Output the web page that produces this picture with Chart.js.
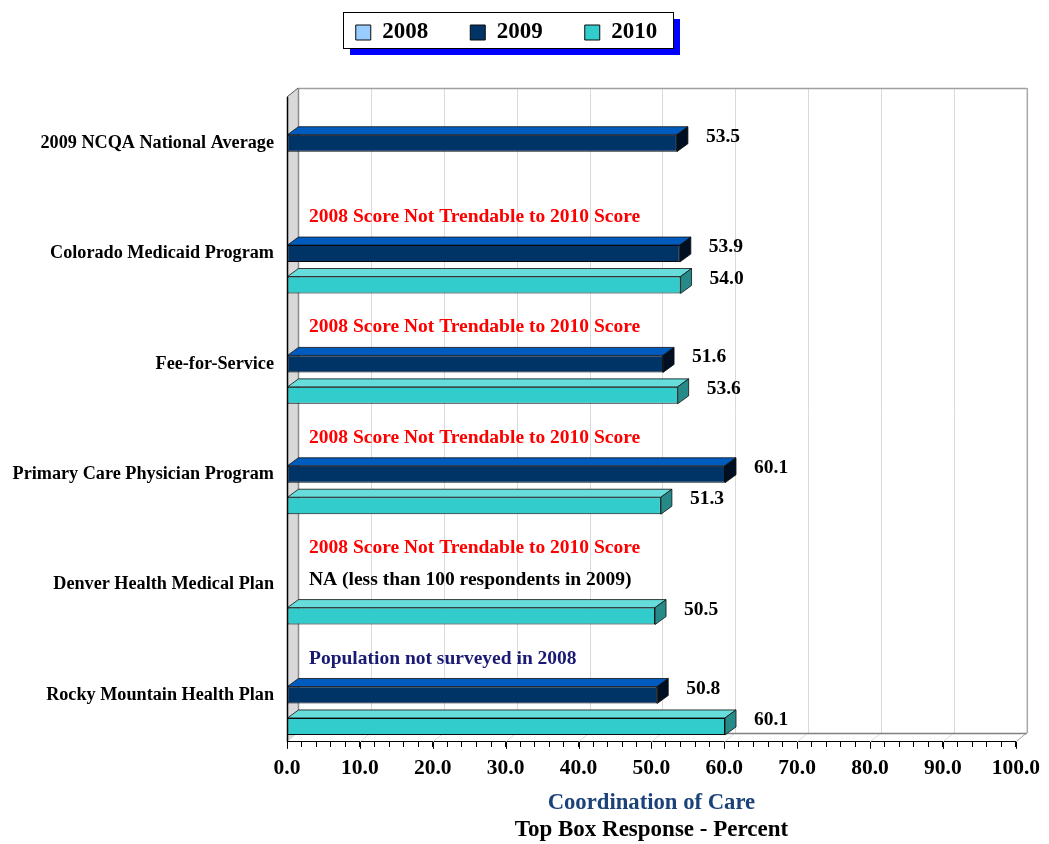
<!DOCTYPE html>
<html>
<head>
<meta charset="utf-8">
<script src="https://cdn.jsdelivr.net/npm/chart.js@4.4.1/dist/chart.umd.min.js"></script>
<style>
html,body{margin:0;padding:0;background:#ffffff;}
canvas{display:block;}
</style>
</head>
<body>
<canvas id="c" width="1049" height="844"></canvas>
<script>
// ---------------- data ----------------
const categories = [
  '2009 NCQA National Average',
  'Colorado Medicaid Program',
  'Fee-for-Service',
  'Primary Care Physician Program',
  'Denver Health Medical Plan',
  'Rocky Mountain Health Plan'
];
const seriesNames = ['2008', '2009', '2010'];
const values2008 = [null, null, null, null, null, null];
const values2009 = [53.5, 53.9, 51.6, 60.1, null, 50.8];
const values2010 = [null, 54.0, 53.6, 51.3, 50.5, 60.1];
const notes2008 = [
  null,
  '2008 Score Not Trendable to 2010 Score',
  '2008 Score Not Trendable to 2010 Score',
  '2008 Score Not Trendable to 2010 Score',
  '2008 Score Not Trendable to 2010 Score',
  'Population not surveyed in 2008'
];
const notes2009 = [null, null, null, null, 'NA (less than 100 respondents in 2009)', null];
const xTickLabels = ['0.0', '10.0', '20.0', '30.0', '40.0', '50.0', '60.0', '70.0', '80.0', '90.0', '100.0'];
const axisTitle = 'Coordination of Care';
const axisSubtitle = 'Top Box Response - Percent';

// ---------------- styles ----------------
const FONT = '"Liberation Serif", "Times New Roman", serif';
const frontColors = ['#99CCFF', '#003366', '#33CCCC'];
const topColors = ['#C2E0FF', '#005BBF', '#66DDDA'];
const sideColors = ['#6A9ACC', '#000F22', '#268A88'];
const note2008Colors = [null, '#FF0000', '#FF0000', '#FF0000', '#FF0000', '#1A1A75'];
const note2009Color = '#000000';
const WALL_DX = 11, WALL_DY = 9;
const BAR_DX = 11, BAR_DY = 8;
const AXIS_AT = 5.425;          // category-axis position of the front floor edge
const LEGEND_H = 109;

function poly(ctx, pts, fill, stroke, lw) {
  ctx.beginPath();
  ctx.moveTo(pts[0][0], pts[0][1]);
  for (let i = 1; i < pts.length; i++) ctx.lineTo(pts[i][0], pts[i][1]);
  ctx.closePath();
  if (fill) { ctx.fillStyle = fill; ctx.fill(); }
  if (stroke) { ctx.strokeStyle = stroke; ctx.lineWidth = lw || 1; ctx.stroke(); }
}
function line(ctx, x1, y1, x2, y2, color, lw) {
  ctx.beginPath();
  ctx.moveTo(x1, y1); ctx.lineTo(x2, y2);
  ctx.strokeStyle = color; ctx.lineWidth = lw || 1; ctx.stroke();
}

const threeD = {
  id: 'threeD',
  afterInit(chart) {
    const lg = chart.legend;
    if (lg) {
      const f = lg.fit;
      lg.fit = function () { f.call(this); this.height = LEGEND_H; };
    }
  },
  beforeDraw(chart) {
    const ctx = chart.ctx;
    const lg = chart.legend;
    if (!lg || !lg.legendHitBoxes || !lg.legendHitBoxes.length) return;
    const hb = lg.legendHitBoxes;
    const last = hb[hb.length - 1];
    const l = Math.round(hb[0].left - 13), r = Math.round(last.left + last.width + 16);
    const t = Math.round(hb[0].top - 9), b = Math.round(hb[0].top + hb[0].height + 4);
    ctx.save();
    ctx.fillStyle = '#0000FF';
    ctx.fillRect(l + 7, t + 7, r - l, b - t);
    ctx.fillStyle = '#FFFFFF';
    ctx.fillRect(l, t, r - l, b - t);
    ctx.strokeStyle = '#000000'; ctx.lineWidth = 1;
    ctx.strokeRect(l + 0.5, t + 0.5, r - l, b - t);
    ctx.restore();
  },
  beforeDatasetsDraw(chart) {
    const ctx = chart.ctx, xs = chart.scales.x, ys = chart.scales.y, ca = chart.chartArea;
    const fy = ys.getPixelForValue(AXIS_AT);
    const fl = ca.left, fr = ca.right;
    const bl = fl + WALL_DX, br = fr + WALL_DX, bt = ca.top, bb = fy - WALL_DY;
    ctx.save();
    // grid lines on back wall and floor; longer major tick marks
    xs.ticks.forEach(t => {
      const v = Math.round(t.value);
      if (v % 10 !== 0) return;
      const x = xs.getPixelForValue(v);
      line(ctx, Math.round(x) + 0.5, fy, Math.round(x) + 0.5, fy + 7, '#000000', 1);
      if (v <= 0) return;
      if (v < 100) line(ctx, Math.round(x + WALL_DX) + 0.5, bt, Math.round(x + WALL_DX) + 0.5, bb, '#DADADA', 1);
      line(ctx, x, fy, x + WALL_DX, bb, v < 100 ? '#DADADA' : '#A0A0A0', 1);
    });
    // back wall border
    line(ctx, bl, bt + 0.5, br, bt + 0.5, '#A0A0A0', 1.5);
    line(ctx, br + 0.5, bt, br + 0.5, bb, '#A8A8A8', 1.5);
    line(ctx, bl, bb + 0.5, br, bb + 0.5, '#808080', 1.5);
    // left wall
    poly(ctx, [[fl, bt + WALL_DY], [bl, bt], [bl, bb], [fl, fy]], '#D9D9D9', null);
    line(ctx, bl + 0.5, bt, bl + 0.5, bb, '#8C8C8C', 1.5);
    line(ctx, fl, bt + WALL_DY, bl, bt, '#555555', 1);
    line(ctx, fl + 0.5, bt + WALL_DY, fl + 0.5, fy, '#000000', 1.5);
    ctx.restore();
  },
  afterDatasetsDraw(chart) {
    const ctx = chart.ctx, ca = chart.chartArea;
    ctx.save();
    [1, 2].forEach(di => {
      const meta = chart.getDatasetMeta(di);
      const data = chart.data.datasets[di].data;
      meta.data.forEach((bar, i) => {
        const v = data[i];
        if (v === null || v === undefined) return;
        const p = bar.getProps(['x', 'y', 'base', 'height'], true);
        const top = p.y - p.height / 2, bot = p.y + p.height / 2;
        poly(ctx, [[p.base, top], [p.x, top], [p.x + BAR_DX, top - BAR_DY], [p.base + BAR_DX, top - BAR_DY]], topColors[di], '#101010', 0.8);
        poly(ctx, [[p.x, top], [p.x + BAR_DX, top - BAR_DY], [p.x + BAR_DX, bot - BAR_DY], [p.x, bot]], sideColors[di], '#101010', 0.8);
        ctx.fillStyle = '#000000';
        ctx.font = 'bold 19.5px ' + FONT;
        ctx.textAlign = 'left';
        ctx.textBaseline = 'middle';
        ctx.fillText(v.toFixed(1), p.x + 29, p.y - 6.5);
      });
    });
    // annotations
    const m0 = chart.getDatasetMeta(0), m1 = chart.getDatasetMeta(1), m2 = chart.getDatasetMeta(2);
    ctx.font = 'bold 19.5px ' + FONT;
    ctx.textAlign = 'left';
    ctx.textBaseline = 'middle';
    categories.forEach((c, i) => {
      const y1 = m1.data[i].y, y2 = m2.data[i].y;
      let y0 = m0.data[i] ? m0.data[i].y : NaN;
      if (!isFinite(y0)) y0 = y1 - (y2 - y1);
      if (notes2008[i]) {
        ctx.fillStyle = note2008Colors[i];
        ctx.fillText(notes2008[i], ca.left + 22, y0 - 5);
      }
      if (notes2009[i]) {
        ctx.fillStyle = note2009Color;
        ctx.fillText(notes2009[i], ca.left + 22, y1 - 5);
      }
    });
    ctx.restore();
  }
};

const datasets = [values2008, values2009, values2010].map((vals, i) => ({
  label: seriesNames[i],
  data: vals,
  backgroundColor: frontColors[i],
  borderColor: '#0A0A0A',
  borderWidth: 1,
  borderSkipped: false,
  categoryPercentage: 0.855,
  barPercentage: 0.54
}));

new Chart(document.getElementById('c'), {
  type: 'bar',
  data: { labels: categories, datasets },
  options: {
    indexAxis: 'y',
    responsive: false,
    animation: false,
    devicePixelRatio: 1,
    layout: { padding: { top: -21, left: -4, right: 32, bottom: 0 } },
    scales: {
      x: {
        type: 'linear',
        axis: 'x',
        position: { y: AXIS_AT },
        min: 0,
        max: 100,
        grid: { drawOnChartArea: false, drawTicks: true, tickLength: 5, color: '#000000', lineWidth: 1 },
        border: { display: true, color: '#000000', width: 1 },
        ticks: {
          stepSize: 2,
          maxTicksLimit: 60,
          autoSkip: false,
          maxRotation: 0,
          minRotation: 0,
          padding: 9,
          color: '#000000',
          font: { family: FONT, size: 21.5, weight: 'bold' },
          callback: (v) => { const r = Math.round(v); return r % 10 === 0 ? xTickLabels[r / 10] : ''; }
        }
      },
      y: {
        type: 'category',
        position: 'left',
        offset: true,
        grid: { display: false, drawTicks: false },
        border: { display: false },
        ticks: { color: '#000000', padding: 13, font: { family: FONT, size: 18.2, weight: 'bold' } },
        afterFit: (s) => { s.width = 291; }
      }
    },
    plugins: {
      tooltip: { enabled: false },
      legend: {
        display: true,
        position: 'top',
        labels: {
          boxWidth: 15,
          boxHeight: 15,
          padding: 42,
          color: '#000000',
          font: { family: FONT, size: 23, weight: 'bold' }
        }
      },
      subtitle: {
        display: true,
        position: 'bottom',
        fullSize: false,
        text: axisTitle,
        color: '#1B4279',
        font: { family: FONT, size: 22.7, weight: 'bold' },
        padding: { top: 39, bottom: 0 }
      },
      title: {
        display: true,
        position: 'bottom',
        fullSize: false,
        text: axisSubtitle,
        color: '#000000',
        font: { family: FONT, size: 23, weight: 'bold' },
        padding: { top: 0, bottom: 0 }
      }
    }
  },
  plugins: [threeD]
});
</script>
</body>
</html>
